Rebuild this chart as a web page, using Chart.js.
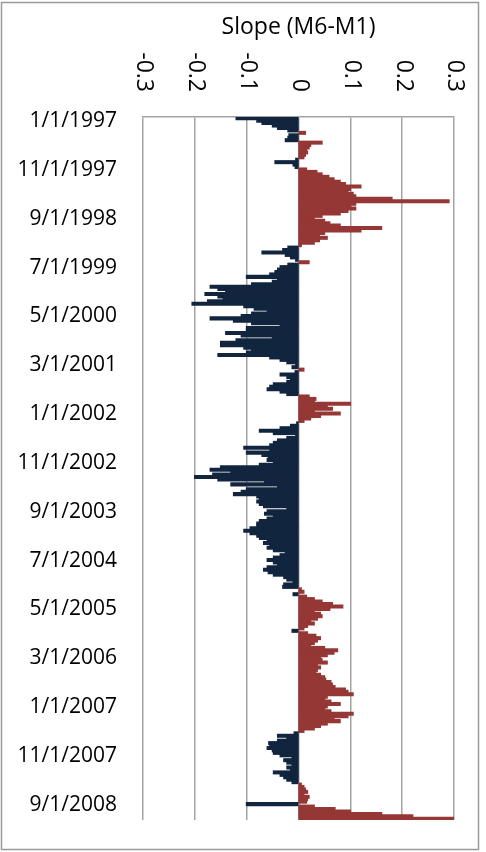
<!DOCTYPE html>
<html>
<head>
<meta charset="utf-8">
<script src="https://cdn.jsdelivr.net/npm/chart.js@4.4.1/dist/chart.umd.min.js"></script>
<style>
  body { margin: 0; background: #fff; }
  canvas { display: block; }
</style>
</head>
<body>
<canvas id="myChart" width="486" height="852"></canvas>
<script>
// half-month steps starting 1/1/1997 (1st and 16th of each month)
var startYear = 1997;
var halfMonths = 288;

// Slope (M6-M1), one value per half month
var slope = [
  -0.12, -0.08, -0.07, -0.05, -0.04, -0.02, 0.013, -0.018, -0.02, -0.025,
  0.045, 0.023, 0.02, 0.015, 0.017, 0.013, 0.01, -0.005, -0.045, -0.01,
  -0.006, 0.015, 0.035, 0.045, 0.058, 0.068, 0.08, 0.09, 0.12, 0.1,
  0.095, 0.105, 0.11, 0.18, 0.29, 0.11, 0.1, 0.11, 0.095, 0.08,
  0.045, 0.03, 0.05, 0.06, 0.08, 0.16, 0.12, 0.05, 0.04, 0.055,
  0.04, 0.03, 0.005, -0.02, -0.03, -0.07, -0.025, -0.015, -0.005, 0.02,
  -0.02, -0.035, -0.04, -0.045, -0.055, -0.1, -0.04, -0.05, -0.09, -0.17,
  -0.155, -0.14, -0.18, -0.155, -0.145, -0.175, -0.205, -0.105, -0.085, -0.06,
  -0.09, -0.11, -0.17, -0.125, -0.09, -0.035, -0.1, -0.1, -0.14, -0.11,
  -0.05, -0.12, -0.15, -0.15, -0.105, -0.09, -0.1, -0.155, -0.055, -0.035,
  -0.022, -0.005, -0.012, 0.01, -0.006, -0.035, -0.022, -0.015, -0.022, -0.048,
  -0.055, -0.06, -0.035, -0.022, 0.02, 0.033, 0.03, 0.1, 0.055, 0.065,
  0.03, 0.08, 0.042, 0.023, 0.01, -0.003, -0.015, -0.035, -0.075, -0.048,
  -0.005, -0.022, -0.04, -0.048, -0.055, -0.105, -0.055, -0.1, -0.07, -0.058,
  -0.06, -0.048, -0.075, -0.15, -0.17, -0.13, -0.165, -0.2, -0.155, -0.065,
  -0.13, -0.04, -0.1, -0.11, -0.125, -0.08, -0.075, -0.08, -0.075, -0.067,
  -0.022, -0.06, -0.065, -0.048, -0.06, -0.075, -0.08, -0.08, -0.093, -0.105,
  -0.093, -0.08, -0.075, -0.06, -0.067, -0.055, -0.06, -0.048, -0.025, -0.035,
  -0.048, -0.06, -0.048, -0.04, -0.06, -0.067, -0.058, -0.048, -0.028, -0.022,
  -0.01, -0.028, -0.03, 0.005, 0.01, -0.01, 0.015, 0.03, 0.045, 0.065,
  0.085, 0.06, 0.03, 0.042, 0.045, 0.036, 0.023, 0.03, 0.017, 0.01,
  -0.012, 0.017, 0.033, 0.042, 0.036, 0.03, 0.023, 0.05, 0.075, 0.068,
  0.055, 0.042, 0.045, 0.055, 0.036, 0.042, 0.036, 0.033, 0.042, 0.05,
  0.052, 0.062, 0.065, 0.07, 0.09, 0.095, 0.105, 0.055, 0.05, 0.062,
  0.08, 0.055, 0.05, 0.062, 0.105, 0.095, 0.068, 0.08, 0.055, 0.042,
  0.03, 0.01, -0.008, -0.04, -0.022, -0.04, -0.057, -0.055, -0.06, -0.05,
  -0.048, -0.035, -0.012, -0.028, -0.022, -0.012, -0.022, -0.015, -0.048, -0.035,
  -0.028, -0.022, -0.012, 0.005, 0.01, 0.013, 0.017, 0.01, 0.02, 0.017,
  0.015, -0.1, 0.03, 0.07, 0.1, 0.16, 0.22, 0.3
];

var tickLabels = ['1/1/1997', '11/1/1997', '9/1/1998', '7/1/1999', '5/1/2000',
  '3/1/2001', '1/1/2002', '11/1/2002', '9/1/2003', '7/1/2004', '5/1/2005',
  '3/1/2006', '1/1/2007', '11/1/2007', '9/1/2008'];

var xTicks = [-0.3, -0.2, -0.1, 0, 0.1, 0.2, 0.3];

var navy = '#12253f';
var darkRed = '#953735';
var gridGray = '#a3a3a3';

// category labels m/d/yyyy
var labels = [];
for (var i = 0; i < halfMonths; i++) {
  var m = Math.floor(i / 2);
  var yr = startYear + Math.floor(m / 12);
  labels.push((m % 12 + 1) + '/' + (i % 2 ? 16 : 1) + '/' + yr);
}

function fmt(v) {
  if (Math.abs(v) < 1e-9) return '0';
  return v.toFixed(1);
}

// frame, title and the sideways tick labels on top
var extras = {
  id: 'extras',
  beforeDraw: function(chart) {
    var c = chart.ctx;
    c.save();
    c.fillStyle = '#fff';
    c.fillRect(0, 0, chart.width, chart.height);
    c.strokeStyle = '#9a9a9a';
    c.lineWidth = 1.5;
    c.strokeRect(1.5, 2.5, 477, 847);
    c.restore();
  },
  afterDraw: function(chart) {
    var c = chart.ctx;
    var area = chart.chartArea;
    var xs = chart.scales.x;
    c.save();
    c.fillStyle = '#000';
    c.font = '23px "Open Sans"';
    c.textAlign = 'center';
    c.textBaseline = 'middle';
    c.fillText('Slope (M6-M1)', (area.left + area.right) / 2, 27);

    c.font = '23px "Open Sans"';
    c.textAlign = 'right';
    c.textBaseline = 'middle';
    xTicks.forEach(function(v) {
      c.save();
      c.translate(xs.getPixelForValue(v) + 1, area.top - 25);
      c.rotate(Math.PI / 2);
      c.fillText(fmt(v), 0, 0);
      c.restore();
    });
    c.restore();
  }
};

document.addEventListener('DOMContentLoaded', function() {
  var ctx = document.getElementById('myChart').getContext('2d');
  new Chart(ctx, {
    type: 'bar',
    data: {
      labels: labels,
      datasets: [{
        label: 'Slope (M6-M1)',
        data: slope,
        backgroundColor: function(c) { return c.raw < 0 ? navy : darkRed; },
        borderWidth: 0,
        inflateAmount: 0.8,
        barPercentage: 1,
        categoryPercentage: 1
      }]
    },
    options: {
      indexAxis: 'y',
      responsive: false,
      animation: false,
      devicePixelRatio: 1,
      layout: { padding: { left: 0, right: 32, top: 0, bottom: 32 } },
      plugins: {
        legend: { display: false },
        tooltip: { enabled: false },
        title: { display: false }
      },
      scales: {
        x: {
          position: 'top',
          min: -0.3,
          max: 0.3,
          ticks: { stepSize: 0.1, display: false },
          grid: { color: gridGray, lineWidth: 1.5, drawTicks: false },
          border: { display: true, color: gridGray, width: 1.5 },
          afterFit: function(s) { s.height = 117; }
        },
        y: {
          ticks: {
            autoSkip: false,
            padding: 26,
            labelOffset: 3,
            color: '#000',
            font: { family: 'Open Sans', size: 21 },
            callback: function(v) {
              var l = this.getLabelForValue(v);
              return tickLabels.indexOf(l) >= 0 ? l : null;
            }
          },
          grid: { display: false, drawTicks: false },
          border: { display: false },
          afterFit: function(s) {
            s.width = 143;
            s.paddingTop = 0;
            s.paddingBottom = 0;
          }
        }
      }
    },
    plugins: [extras]
  });
});
</script>
</body>
</html>
